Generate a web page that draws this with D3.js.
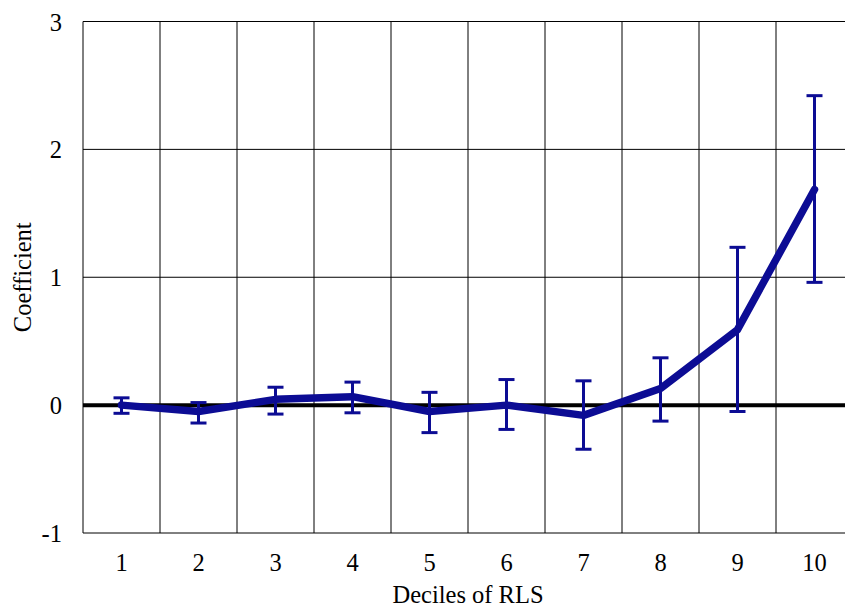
<!DOCTYPE html>
<html><head><meta charset="utf-8">
<script src="https://cdn.jsdelivr.net/npm/d3@7"></script>
<style>html,body{margin:0;padding:0;background:#fff;overflow:hidden}</style>
</head><body><svg id="c" width="845" height="610"></svg>
<script>
const deciles = ["1","2","3","4","5","6","7","8","9","10"];
const coef =  [0.00, -0.05, 0.045, 0.066, -0.05, 0.00, -0.08, 0.13, 0.59, 1.686];
const lower = [-0.064, -0.14, -0.07, -0.06, -0.215, -0.19, -0.345, -0.125, -0.05, 0.96];
const upper = [0.057, 0.02, 0.14, 0.18, 0.10, 0.20, 0.19, 0.37, 1.234, 2.42];
const yTicks = [-1, 0, 1, 2, 3];

const svg = d3.select("#c");
const L = 83, R = 853, T = 21.5, B = 533;
const x = d3.scaleBand().domain(deciles).range([L, R]).padding(0);
const y = d3.scaleLinear().domain([-1, 3]).range([B, T]);
const font = "Liberation Serif";
const fs = 24.5;
const col = "#0c0c94";

// horizontal gridlines
svg.append("g").selectAll("line").data(yTicks).join("line")
  .attr("x1", L).attr("x2", R).attr("y1", d => y(d)).attr("y2", d => y(d))
  .attr("stroke", "#000").attr("stroke-width", 1);
// vertical gridlines
svg.append("g").selectAll("line").data(deciles).join("line")
  .attr("x1", d => x(d)).attr("x2", d => x(d)).attr("y1", T).attr("y2", B)
  .attr("stroke", "#000").attr("stroke-width", 1);
svg.append("line").attr("x1", R).attr("x2", R).attr("y1", T).attr("y2", B).attr("stroke", "#000");
// zero line
svg.append("line").attr("x1", L).attr("x2", R).attr("y1", y(0)).attr("y2", y(0))
  .attr("stroke", "#000").attr("stroke-width", 4);

// y axis labels
svg.append("g").selectAll("text").data(yTicks).join("text")
  .attr("x", 62).attr("y", d => y(d) + 9).attr("text-anchor", "end")
  .attr("font-family", font).attr("font-size", fs).text(d => d);
// x axis labels
svg.append("g").selectAll("text").data(deciles).join("text")
  .attr("x", d => x(d) + x.bandwidth() / 2).attr("y", 571).attr("text-anchor", "middle")
  .attr("font-family", font).attr("font-size", fs).text(d => d);

svg.append("text").attr("x", (L + R) / 2).attr("y", 603).attr("text-anchor", "middle")
  .attr("font-family", font).attr("font-size", fs).text("Deciles of RLS");
svg.append("text").attr("transform", `translate(31,${y(1)}) rotate(-90)`).attr("text-anchor", "middle")
  .attr("font-family", font).attr("font-size", fs).text("Coefficient");

const cx = i => x(deciles[i]) + x.bandwidth() / 2;
// error bars
const eb = svg.append("g").attr("stroke", col).attr("stroke-width", 3);
deciles.forEach((d, i) => {
  eb.append("line").attr("x1", cx(i)).attr("x2", cx(i)).attr("y1", y(lower[i])).attr("y2", y(upper[i]));
  eb.append("line").attr("x1", cx(i) - 8).attr("x2", cx(i) + 8).attr("y1", y(lower[i])).attr("y2", y(lower[i]));
  eb.append("line").attr("x1", cx(i) - 8).attr("x2", cx(i) + 8).attr("y1", y(upper[i])).attr("y2", y(upper[i]));
});
// line
svg.append("path").datum(coef)
  .attr("d", d3.line().x((d, i) => cx(i)).y(d => y(d)))
  .attr("fill", "none").attr("stroke", col).attr("stroke-width", 7.5)
  .attr("stroke-linejoin", "round").attr("stroke-linecap", "round");
</script></body></html>
